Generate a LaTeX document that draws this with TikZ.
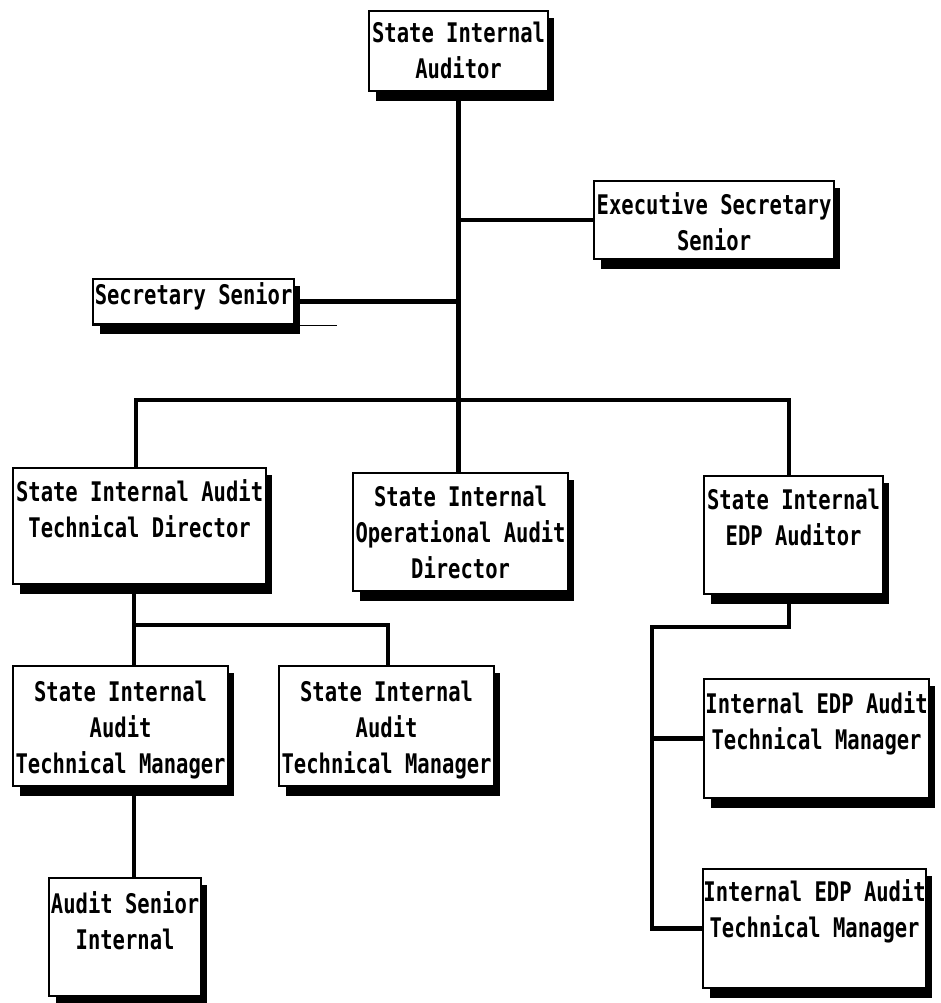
\documentclass[tikz,border=0pt]{standalone}
\usepackage{fontspec}
\newfontfamily\boxfont[FakeStretch=0.76]{DejaVu Sans Mono}
\pgfdeclarelayer{background}
\pgfsetlayers{background,main}
\tikzset{
  orgnode/.style={draw, line width=2.2pt, fill=white, inner sep=0pt, anchor=north west,
                  font=\boxfont\bfseries\fontsize{27}{36}\selectfont},
  shadowfill/.style={fill=black},
  conn/.style={line width=4.5pt},
  thinline/.style={line width=1.4pt}
}
% name, x1, y1, x2, y2, first-baseline offset, text
\newcommand\orgbox[7]{%
  \fill[shadowfill] (#2+8,#3+8) rectangle (#4+7,#5+11);
  \node[orgnode] (#1) at (#2,#3)
    {\parbox[c][\dimexpr#5pt-#3pt\relax][t]{\dimexpr#4pt-#2pt\relax}{\centering\rule{0pt}{#6pt}#7}};
}
\begin{document}
\begin{tikzpicture}[x=1pt,y=-1pt]
\useasboundingbox (0,0) rectangle (940,1003);
% boxes
\orgbox{sia}{368}{10}{547}{90}{31}{State Internal\\Auditor}
\orgbox{ess}{593}{180}{833}{258}{33}{Executive Secretary\\Senior}
\orgbox{ss}{92}{278}{293}{323}{25}{Secretary Senior}
\draw[thinline] (ss.south west) -- ([xshift=42]ss.south east);
\orgbox{td}{12}{467}{265}{583}{33}{State Internal Audit\\Technical Director}
\orgbox{od}{352}{472}{567}{590}{33}{State Internal\\Operational Audit\\Director}
\orgbox{edp}{703}{475}{882}{593}{33}{State Internal\\EDP Auditor}
\orgbox{tmone}{12}{665}{227}{785}{35}{State Internal\\Audit\\Technical Manager}
\orgbox{tmtwo}{278}{665}{493}{785}{35}{State Internal\\Audit\\Technical Manager}
\orgbox{as}{48}{877}{200}{995}{35}{Audit Senior\\Internal}
\orgbox{eone}{703}{678}{928}{797}{34}{Internal EDP Audit\\Technical Manager}
\orgbox{etwo}{702}{868}{925}{987}{32}{Internal EDP Audit\\Technical Manager}
% junction points of the connector buses
\coordinate (bus) at (458,400);
\coordinate (btwo) at (134,625);
\coordinate (bthree) at (652,627);
% connectors, behind the boxes
\begin{pgfonlayer}{background}
\fill[white] (0,0) rectangle (940,1003);
\draw[conn] (sia.south) -- (sia.south |- od.north);
\draw[conn] (ess.west) -- (ess.west -| sia.south);
\draw[conn] (ss.east) -- (ss.east -| sia.south);
\draw[conn] ([xshift=-3.5]td.north) |- (bus) -| ([xshift=-4.5]edp.north);
\draw[conn] (td.south -| btwo) -- (btwo) -| ([xshift=1.5]tmtwo.north);
\draw[conn] (btwo) -- (tmone.north -| btwo);
\draw[conn] (tmone.south -| btwo) -- (as.north -| btwo);
\draw[conn] ([xshift=-4.5]edp.south) |- (bthree) |- (etwo.west);
\draw[conn] (bthree |- eone.west) -- (eone.west);
\end{pgfonlayer}
\end{tikzpicture}
\end{document}
